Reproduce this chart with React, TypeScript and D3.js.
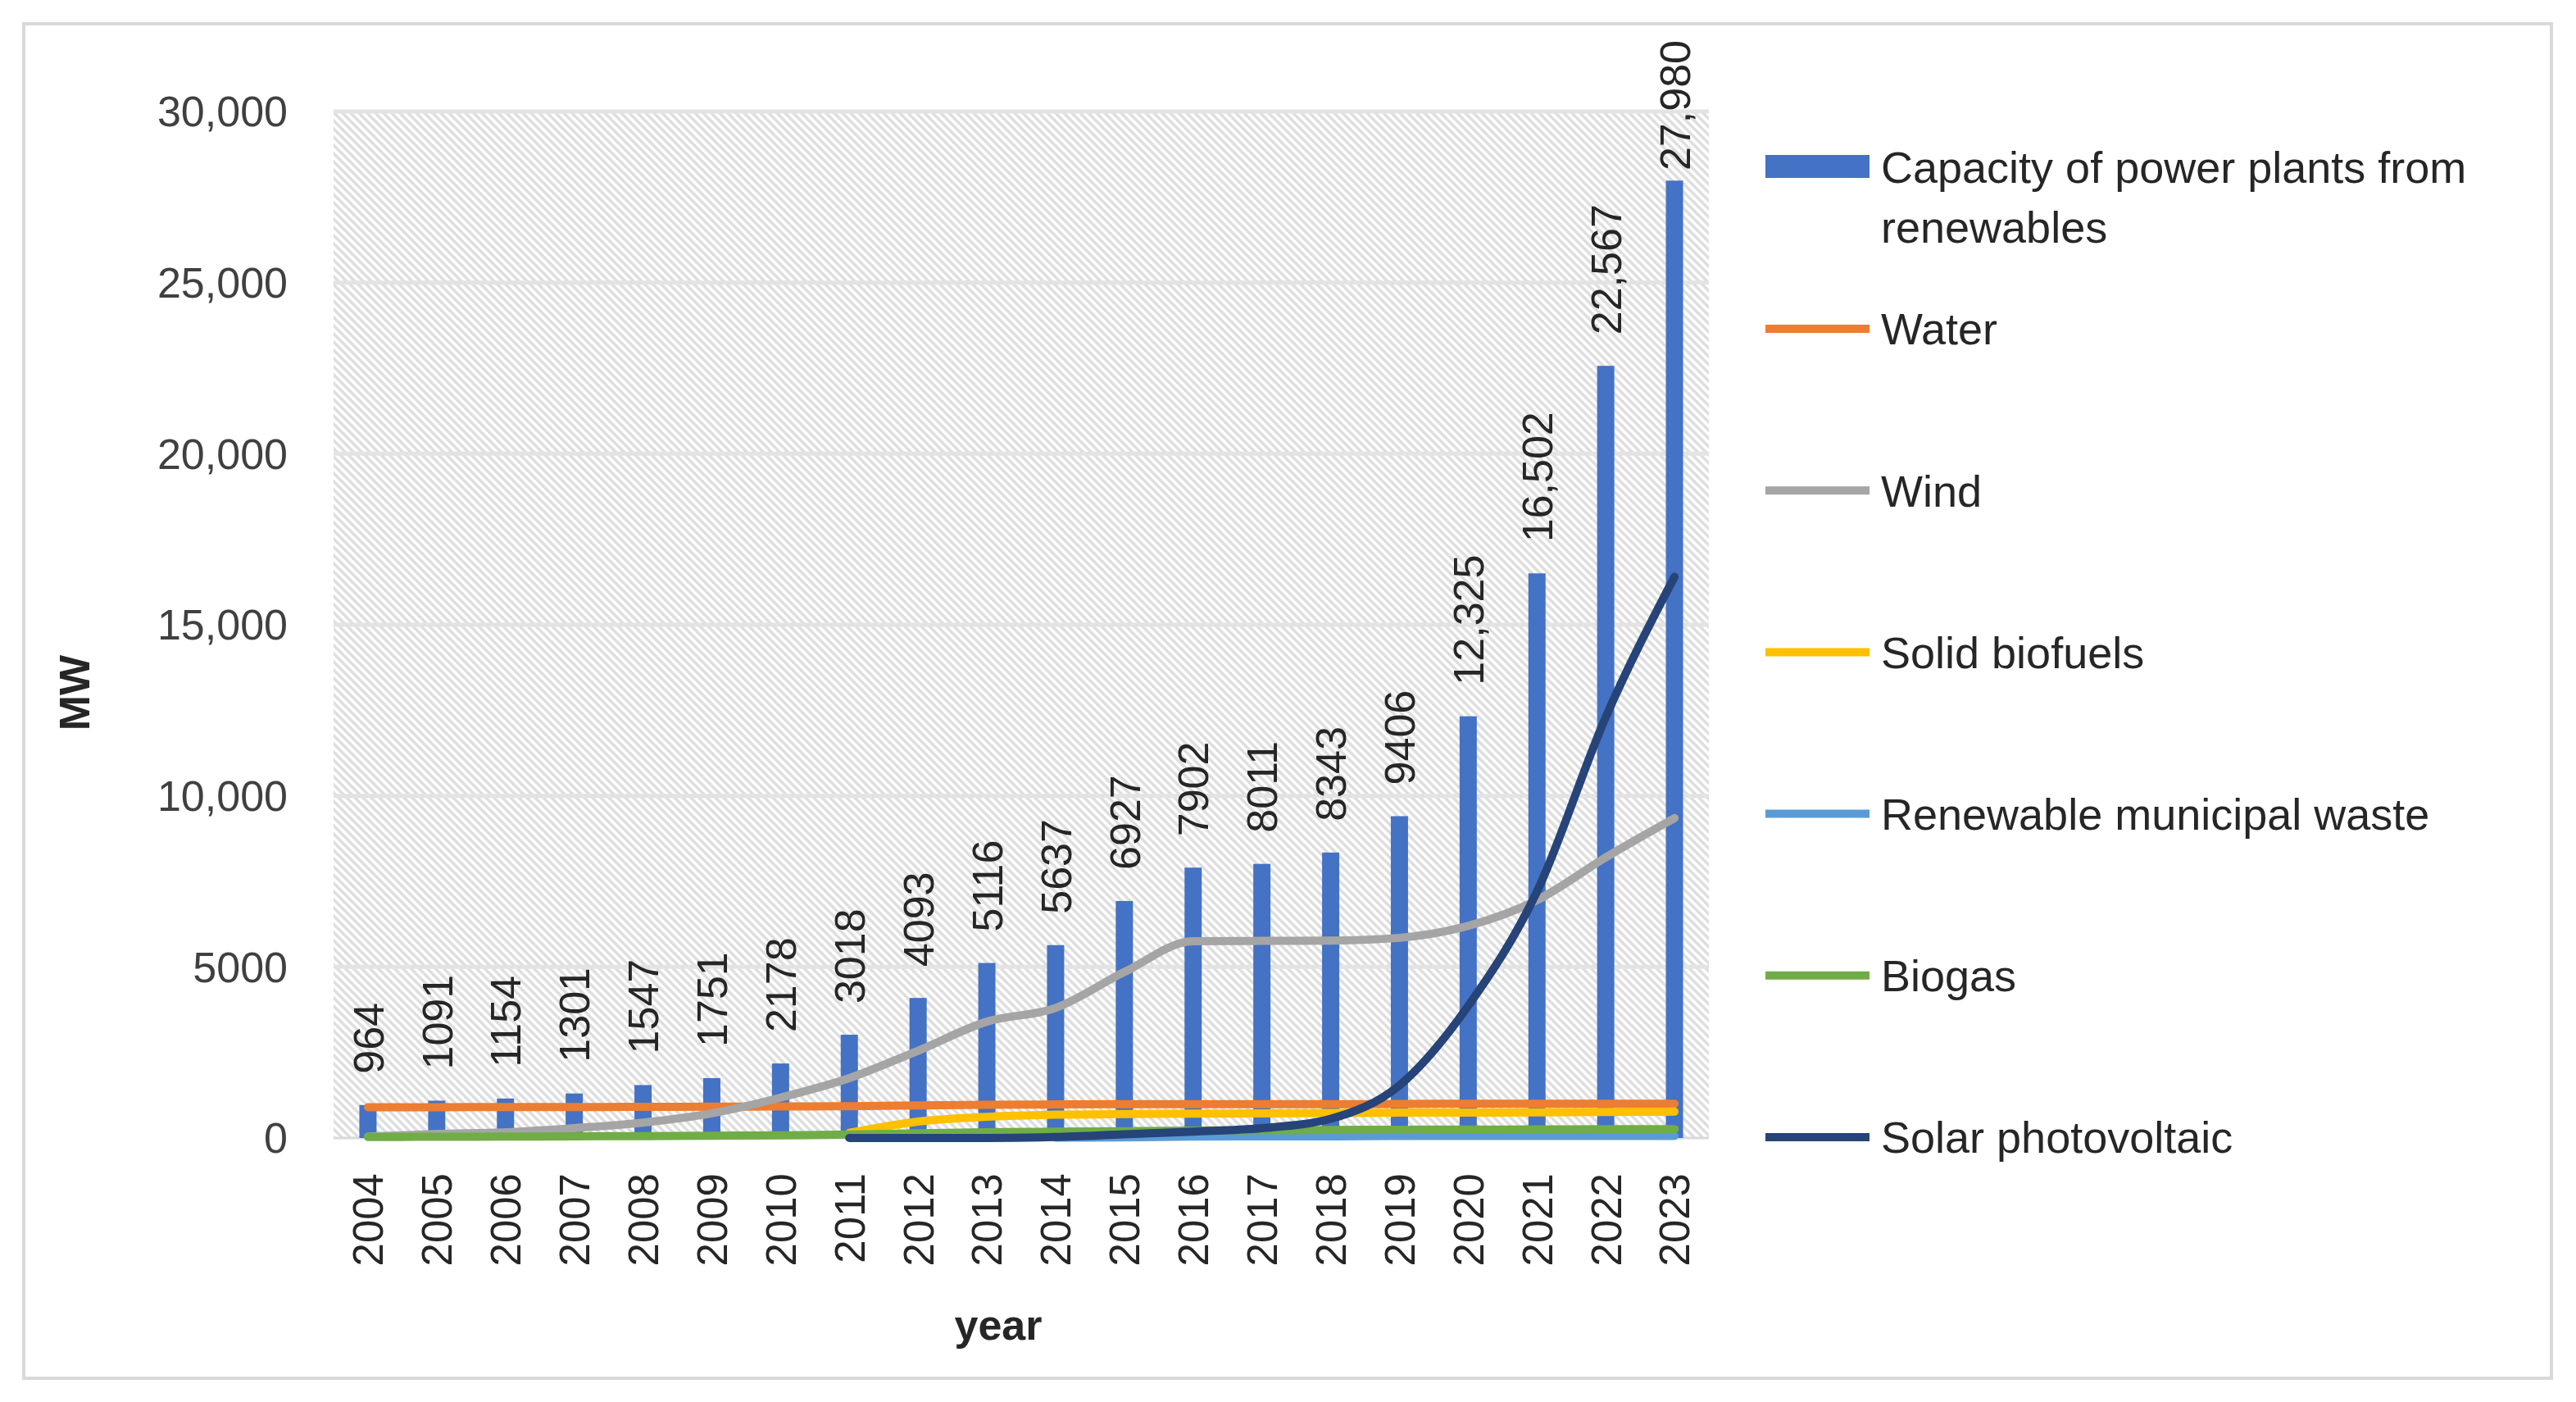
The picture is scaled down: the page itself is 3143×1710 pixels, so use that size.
import { useEffect, useRef } from "react"
import * as d3 from "d3"

// years on the x axis
const years = [
  "2004", "2005", "2006", "2007", "2008", "2009", "2010", "2011", "2012", "2013",
  "2014", "2015", "2016", "2017", "2018", "2019", "2020", "2021", "2022", "2023",
]

// bars: total capacity from renewables (MW)
const capacity = [
  964, 1091, 1154, 1301, 1547, 1751, 2178, 3018, 4093, 5116,
  5637, 6927, 7902, 8011, 8343, 9406, 12325, 16502, 22567, 27980,
]

// lines (MW); null = no value
const water = [900, 900, 905, 905, 910, 915, 920, 930, 950, 970, 980, 990, 990, 990, 990, 995, 1000, 1000, 1000, 1000]
const wind = [40, 120, 170, 290, 450, 720, 1180, 1750, 2550, 3400, 3800, 4850, 5750, 5760, 5770, 5850, 6200, 6950, 8200, 9350]
const solidBiofuels = [null, null, null, null, null, null, null, 150, 480, 620, 680, 700, 710, 720, 730, 740, 740, 750, 760, 770]
const municipalWaste = [null, null, null, null, null, null, null, null, null, null, 10, 20, 40, 50, 50, 60, 60, 60, 60, 60]
const biogas = [30, 35, 40, 50, 55, 65, 80, 100, 140, 170, 185, 200, 215, 225, 235, 240, 245, 250, 255, 260]
const solar = [null, null, null, null, null, null, null, 1, 2, 2, 27, 108, 187, 287, 562, 1539, 3860, 7200, 12300, 16400]

const yTicks = [0, 5000, 10000, 15000, 20000, 25000, 30000]

interface LineSeries {
  name: string
  color: string
  values: (number | null)[]
}

const lineSeries: LineSeries[] = [
  { name: "Water", color: "#ED7D31", values: water },
  { name: "Wind", color: "#A5A5A5", values: wind },
  { name: "Solid biofuels", color: "#FFC000", values: solidBiofuels },
  { name: "Renewable municipal waste", color: "#5B9BD5", values: municipalWaste },
  { name: "Biogas", color: "#70AD47", values: biogas },
  { name: "Solar photovoltaic", color: "#264478", values: solar },
]

const barColor = "#4472C4"
const FONT = "'Liberation Sans', Arial, sans-serif"

const App = () => {
  const svgRef = useRef<SVGSVGElement | null>(null)

  useEffect(() => {
    if (!svgRef.current) return
    document.body.style.margin = "0"

    const svg = d3.select(svgRef.current)
    svg.selectAll("*").remove()

    const width = 3143
    const height = 1710
    const plot = { left: 407, right: 2085, top: 136, bottom: 1388 }

    svg.append("rect").attr("width", width).attr("height", height).attr("fill", "#fff")

    // outer chart border
    svg
      .append("rect")
      .attr("x", 29)
      .attr("y", 29)
      .attr("width", 3084)
      .attr("height", 1652)
      .attr("fill", "none")
      .attr("stroke", "#d9d9d9")
      .attr("stroke-width", 4)

    // hatch pattern for the plot area
    const defs = svg.append("defs")
    const pat = defs
      .append("pattern")
      .attr("id", "hatch")
      .attr("patternUnits", "userSpaceOnUse")
      .attr("width", 10)
      .attr("height", 10)
    pat.append("rect").attr("width", 10).attr("height", 10).attr("fill", "#fff")
    pat
      .append("path")
      .attr("d", "M-1,-1 L11,11 M-6,4 L6,16 M4,-6 L16,6")
      .attr("stroke", "#dedede")
      .attr("stroke-width", 3.5)

    const xScale = d3.scaleBand<string>().domain(years).range([plot.left, plot.right]).padding(0)
    const yScale = d3.scaleLinear().domain([0, 30000]).range([plot.bottom, plot.top])
    const cx = (y: string) => xScale(y)! + xScale.bandwidth() / 2

    svg
      .append("rect")
      .attr("x", plot.left)
      .attr("y", plot.top)
      .attr("width", plot.right - plot.left)
      .attr("height", plot.bottom - plot.top)
      .attr("fill", "url(#hatch)")

    // grid lines
    svg
      .append("g")
      .selectAll("line")
      .data(yTicks.filter((d) => d > 0))
      .join("line")
      .attr("x1", plot.left)
      .attr("x2", plot.right)
      .attr("y1", (d) => yScale(d))
      .attr("y2", (d) => yScale(d))
      .attr("stroke", "#e3e3e3")
      .attr("stroke-width", 5)

    // x axis line
    svg
      .append("line")
      .attr("x1", plot.left)
      .attr("x2", plot.right)
      .attr("y1", yScale(0))
      .attr("y2", yScale(0))
      .attr("stroke", "#d9d9d9")
      .attr("stroke-width", 3)

    // y tick labels
    const fmtTick = (d: number) => (d >= 10000 ? d3.format(",")(d) : String(d))
    svg
      .append("g")
      .selectAll("text")
      .data(yTicks)
      .join("text")
      .attr("x", 351)
      .attr("y", (d) => yScale(d))
      .attr("dy", "0.35em")
      .attr("text-anchor", "end")
      .style("font-family", FONT)
      .style("font-size", "52px")
      .attr("fill", "#404040")
      .text(fmtTick)

    // bars
    const barW = xScale.bandwidth() * 0.25
    svg
      .append("g")
      .selectAll("rect")
      .data(capacity)
      .join("rect")
      .attr("x", (_, i) => cx(years[i]) - barW / 2)
      .attr("y", (d) => yScale(d))
      .attr("width", barW)
      .attr("height", (d) => yScale(0) - yScale(d))
      .attr("fill", barColor)

    // lines
    lineSeries.forEach((s) => {
      const pts = s.values
        .map((v, i) => ({ year: years[i], v }))
        .filter((p) => p.v !== null) as { year: string; v: number }[]
      const line = d3
        .line<{ year: string; v: number }>()
        .x((d) => cx(d.year))
        .y((d) => yScale(d.v))
        .curve(d3.curveMonotoneX)
      svg
        .append("path")
        .datum(pts)
        .attr("fill", "none")
        .attr("stroke", s.color)
        .attr("stroke-width", 10)
        .attr("stroke-linecap", "round")
        .attr("d", line)
    })

    // data labels on bars (rotated)
    const fmtLabel = (d: number) => (d >= 10000 ? d3.format(",")(d) : String(d))
    capacity.forEach((v, i) => {
      const t = svg
        .append("text")
        .attr("dy", "0.36em")
        .attr("text-anchor", "start")
        .style("font-family", FONT)
        .style("font-size", "52px")
        .attr("fill", "#262626")
        .text(fmtLabel(v))
      const len = (t.node() as SVGTextElement).getComputedTextLength()
      let start = yScale(v) - 38
      if (start - len < 49) start = 49 + len
      t.attr("transform", `translate(${cx(years[i])},${start}) rotate(-90)`)
    })

    // year labels
    svg
      .append("g")
      .selectAll("text")
      .data(years)
      .join("text")
      .attr("transform", (d) => `translate(${cx(d)},1431) rotate(-90)`)
      .attr("dy", "0.36em")
      .attr("text-anchor", "end")
      .style("font-family", FONT)
      .style("font-size", "51px")
      .attr("fill", "#262626")
      .text((d) => d)

    // axis titles
    svg
      .append("text")
      .attr("transform", "translate(90,845) rotate(-90)")
      .attr("dy", "0.36em")
      .attr("text-anchor", "middle")
      .style("font-family", FONT)
      .style("font-size", "52px")
      .style("font-weight", "bold")
      .attr("fill", "#262626")
      .text("MW")

    svg
      .append("text")
      .attr("x", 1218)
      .attr("y", 1634)
      .attr("text-anchor", "middle")
      .style("font-family", FONT)
      .style("font-size", "52px")
      .style("font-weight", "bold")
      .attr("fill", "#262626")
      .text("year")

    // legend
    const legend = svg.append("g")
    const symX0 = 2154
    const symX1 = 2281
    const textX = 2295

    legend
      .append("rect")
      .attr("x", symX0)
      .attr("y", 189)
      .attr("width", symX1 - symX0)
      .attr("height", 28)
      .attr("fill", barColor)
    const capText = legend
      .append("text")
      .attr("x", textX)
      .attr("y", 204)
      .attr("dy", "0.36em")
      .style("font-family", FONT)
      .style("font-size", "54px")
      .attr("fill", "#262626")
    capText.append("tspan").attr("x", textX).text("Capacity of power plants from")
    capText.append("tspan").attr("x", textX).attr("dy", 73).text("renewables")

    lineSeries.forEach((s, i) => {
      const ly = 401 + i * 197.2
      legend
        .append("line")
        .attr("x1", symX0)
        .attr("x2", symX1)
        .attr("y1", ly)
        .attr("y2", ly)
        .attr("stroke", s.color)
        .attr("stroke-width", 10)
      legend
        .append("text")
        .attr("x", textX)
        .attr("y", ly)
        .attr("dy", "0.36em")
        .style("font-family", FONT)
        .style("font-size", "54px")
        .attr("fill", "#262626")
        .text(s.name)
    })
  }, [])

  return (
    <div style={{ position: "absolute", left: 0, top: 0 }}>
      <svg ref={svgRef} width={3143} height={1710} style={{ display: "block" }} />
    </div>
  )
}

export default App
